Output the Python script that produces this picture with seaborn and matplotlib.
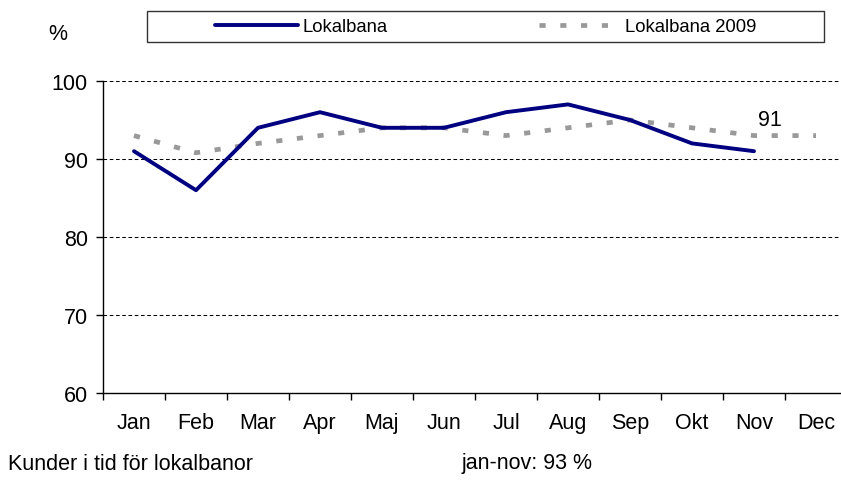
import numpy as np
import pandas as pd
import matplotlib as mpl
mpl.use("Agg")
import matplotlib.pyplot as plt
from matplotlib.patches import Rectangle
from matplotlib.ticker import FixedLocator
import seaborn as sns

# Data
months = ['Jan', 'Feb', 'Mar', 'Apr', 'Maj', 'Jun', 'Jul', 'Aug', 'Sep', 'Okt', 'Nov', 'Dec']
lokalbana = [91, 86, 94, 96, 94, 94, 96, 97, 95, 92, 91]
lokalbana_2009 = [93, 90.8, 92, 93, 94, 94, 93, 94, 95, 94, 93, 93]
y_ticks = [60, 70, 80, 90, 100]

sns.set_theme(style='white')
plt.rcParams['font.family'] = ['Liberation Sans', 'DejaVu Sans']
plt.rcParams.update({
    'font.size': 15.5,
    'text.color': 'black',
    'xtick.color': 'black',
    'ytick.color': 'black',
    'xtick.labelcolor': 'black',
    'ytick.labelcolor': 'black',
})
FS = 15.5      # axis / footer text
FS_LEG = 13.3  # legend text

df_now = pd.DataFrame({'x': np.arange(len(lokalbana)), 'y': lokalbana})
df_prev = pd.DataFrame({'x': np.arange(len(lokalbana_2009)), 'y': lokalbana_2009})

W, H = 841, 481
fig = plt.figure(figsize=(W / 100, H / 100), dpi=100)
ax = fig.add_axes([103 / W, 1 - 394 / H, (847 - 103) / W, (394 - 82) / H])

# horizontal dashed gridlines
for v in y_ticks[1:]:
    ax.axhline(v, color='black', lw=0.75, ls=(0, (3.5, 2.5)), zorder=0)

sns.lineplot(data=df_prev, x='x', y='y', ax=ax, color='#999999', lw=3.4,
             label='Lokalbana 2009', zorder=2)
ax.lines[-1].set_dashes((1.3, 3.1))
sns.lineplot(data=df_now, x='x', y='y', ax=ax, color='#000080', lw=2.8,
             label='Lokalbana', zorder=3)

ax.annotate(str(lokalbana[-1]), (len(lokalbana) - 1, lokalbana[-1]),
            xytext=(3, 15), textcoords='offset points', fontsize=FS,
            ha='left', va='bottom', color='black')

ax.set_xlim(-0.5, 11.5)
ax.set_ylim(60, 100)
ax.set_yticks(y_ticks)
ax.set_xticks(np.arange(len(months)))
ax.set_xticklabels(months)
ax.xaxis.set_minor_locator(FixedLocator(np.arange(-0.5, 12, 1.0)))
ax.tick_params(axis='x', which='major', length=0, pad=14, labelsize=FS, labelcolor='black')
ax.tick_params(axis='x', which='minor', length=5, width=1, color='black', direction='out', bottom=True)
ax.tick_params(axis='y', length=5, width=1, color='black', direction='out', left=True, pad=6,
               labelsize=FS, labelcolor='black')
ax.set_xlabel('')
ax.set_ylabel('')
for s in ['top', 'right']:
    ax.spines[s].set_visible(False)
for s in ['left', 'bottom']:
    ax.spines[s].set_color('black')
    ax.spines[s].set_linewidth(1)
ax.grid(False)

# legend in a wide frame at the top
handles, labels = ax.get_legend_handles_labels()
ax.get_legend().remove()
order = [labels.index('Lokalbana'), labels.index('Lokalbana 2009')]
fig.patches.append(Rectangle((147 / W, 1 - 43 / H), (824 - 147) / W, 31 / H,
                             transform=fig.transFigure, fill=False,
                             edgecolor='#333333', lw=1))
fig.legend([handles[i] for i in order], [labels[i] for i in order],
           loc='center', bbox_to_anchor=(486 / W, 1 - 27.5 / H), ncol=2,
           frameon=False, handlelength=4.5, handletextpad=0.2,
           columnspacing=8.2, fontsize=FS_LEG, labelcolor='black')

fig.text(48 / W, 1 - 35 / H, '%', fontsize=FS, va='center', ha='left', color='black')
fig.text(8 / W, 1 - 464 / H, 'Kunder i tid för lokalbanor', fontsize=FS, va='center', ha='left', color='black')
fig.text(462 / W, 1 - 464 / H, 'jan-nov: 93 %', fontsize=FS, va='center', ha='left', color='black')

fig.savefig('out.png', dpi=100)
